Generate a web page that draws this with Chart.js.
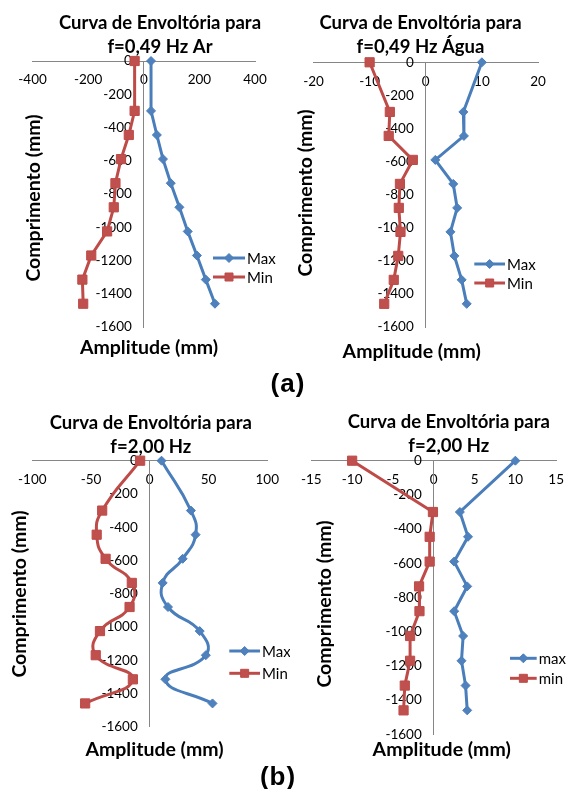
<!DOCTYPE html>
<html><head><meta charset="utf-8">
<script src="https://cdn.jsdelivr.net/npm/chart.js@4.4.0/dist/chart.umd.min.js"></script>
<style>
html,body{margin:0;padding:0;background:#fff;}
body{width:575px;height:789px;position:relative;overflow:hidden;}
canvas{position:absolute;}
.lbl{position:absolute;font-weight:bold;font-size:26px;font-family:"Liberation Sans",Arial,sans-serif;transform:translate(-50%,-50%);letter-spacing:1px;color:#000;}
</style></head><body>
<canvas id="c1" style="left:0;top:0" width="290" height="370"></canvas>
<canvas id="c2" style="left:290px;top:0" width="285" height="370"></canvas>
<canvas id="c3" style="left:0;top:395px" width="290" height="370"></canvas>
<canvas id="c4" style="left:290px;top:395px" width="285" height="370"></canvas>
<div class="lbl" style="left:288px;top:383px">(a)</div>
<div class="lbl" style="left:278px;top:776px">(b)</div>
<script>
// ---- data ----
const depth = [0, -300, -445, -590, -735, -880, -1025, -1170, -1315, -1460];
const yTicks = [0, -200, -400, -600, -800, -1000, -1200, -1400, -1600];

const arMax = [26, 26, 47, 69, 97, 128, 158, 191, 223, 256];
const arMin = [-33, -33, -54, -82, -102, -108, -132, -189, -221, -218];
const arTicks = [-400, -200, 0, 200, 400];

const aguaMax = [10, 6.7, 6.8, 1.7, 4.9, 5.6, 4.4, 5.1, 6.4, 7.3];
const aguaMin = [-10, -6.4, -6.6, -2.3, -4.6, -4.8, -4.5, -4.9, -5.7, -7.4];
const aguaTicks = [-20, -10, 0, 10, 20];

const hz2aMax = [10, 35, 39, 28, 11, 15.5, 42.5, 47.7, 13.3, 53.4];
const hz2aMin = [-8.2, -40.5, -45.2, -37.6, -15.3, -17.2, -42.4, -46, -14.4, -55];
const hz2aTicks = [-100, -50, 0, 50, 100];

const hz2bMax = [10, 3.2, 4.2, 2.5, 4.1, 2.5, 3.6, 3.4, 3.9, 4.1];
const hz2bMin = [-10, -0.1, -0.5, -0.5, -1.8, -1.75, -2.9, -2.9, -3.55, -3.7];
const hz2bTicks = [-15, -10, -5, 0, 5, 10, 15];

const titleLine1 = "Curva de Envoltória para";
const titles = [
  [titleLine1, "f=0,49 Hz Ar"],
  [titleLine1, "f=0,49 Hz Água"],
  [titleLine1, "f=2,00 Hz"],
  [titleLine1, "f=2,00 Hz"]
];
const xTitle = "Amplitude (mm)";
const yTitle = "Comprimento (mm)";
const legendUpper = ["Max", "Min"];
const legendLower = ["max", "min"];

// ---- styles ----
const BLUE = '#4A7EBB', BLUE_F = '#4F81BD';
const RED = '#BE4B48', RED_F = '#C0504D';
const AXIS = '#868686';
const FONT = 'Lato, "Open Sans", sans-serif';
const Y_LABEL_GAP = 12;

// place the y tick labels a fixed gap left of the vertical axis line
const yLabelGap = {
  id: 'yLabelGap',
  beforeDraw(chart) {
    const ys = chart.scales.y;
    const axisX = chart.scales.x.getPixelForValue(0);
    ys.getLabelItems(chart.chartArea).forEach(it => {
      it.options.translation[0] = axisX - Y_LABEL_GAP;
      it.options.textAlign = 'right';
    });
  }
};

const decor = {
  id: 'decor',
  afterDraw(chart, args, o) {
    const ctx = chart.ctx;
    ctx.save();
    ctx.fillStyle = '#000';
    ctx.textAlign = 'center';
    ctx.textBaseline = 'middle';
    ctx.font = 'bold 18.5px ' + FONT;
    o.title.forEach((t, i) => ctx.fillText(t, o.tx, o.ty[i]));
    ctx.font = 'bold 19.5px ' + FONT;
    ctx.fillText(o.xTitle, o.xtx, o.xty);
    ctx.save();
    ctx.translate(o.ytx, o.yty);
    ctx.rotate(-Math.PI / 2);
    ctx.fillText(o.yTitle, 0, 0);
    ctx.restore();
    chart.data.datasets.forEach((ds, i) => {
      const y = o.ly[i];
      ctx.strokeStyle = ds.borderColor;
      ctx.lineWidth = 3;
      ctx.beginPath(); ctx.moveTo(o.lx1, y); ctx.lineTo(o.lx2, y); ctx.stroke();
      const cx = (o.lx1 + o.lx2) / 2;
      ctx.fillStyle = ds.pointBackgroundColor;
      ctx.strokeStyle = ds.pointBorderColor;
      ctx.lineWidth = 1;
      ctx.beginPath();
      if (ds.pointStyle === 'rectRot') {
        const r = 4.5;
        ctx.moveTo(cx, y - r); ctx.lineTo(cx + r, y); ctx.lineTo(cx, y + r); ctx.lineTo(cx - r, y); ctx.closePath();
      } else {
        const s = 4;
        ctx.rect(cx - s, y - s, 2 * s, 2 * s);
      }
      ctx.fill(); ctx.stroke();
      ctx.fillStyle = '#000';
      ctx.textAlign = 'left';
      ctx.font = '15px ' + FONT;
      ctx.fillText(ds.label, o.lx2 + 2, y + 1);
    });
    ctx.restore();
  }
};

function makeChart(id, maxVals, minVals, xTicks, names, tension, lay) {
  const canvas = document.getElementById(id);
  const W = canvas.width, H = canvas.height;
  const pts = vals => depth.map((d, i) => ({x: vals[i], y: d}));
  return new Chart(canvas, {
    type: 'line',
    data: {
      datasets: [
        {label: names[0], data: pts(maxVals), borderColor: BLUE, borderWidth: 3,
         pointStyle: 'rectRot', pointRadius: 4.5, pointBackgroundColor: BLUE_F, pointBorderColor: BLUE,
         pointBorderWidth: 1, tension: tension, clip: false},
        {label: names[1], data: pts(minVals), borderColor: RED, borderWidth: 3,
         pointStyle: 'rect', pointRadius: 6.5, pointBackgroundColor: RED_F, pointBorderColor: RED,
         pointBorderWidth: 1, tension: tension, clip: false}
      ]
    },
    options: {
      responsive: false, animation: false, devicePixelRatio: 1,
      layout: {padding: {left: lay.L, right: W - lay.R, top: lay.T, bottom: H - lay.B}},
      plugins: {
        legend: {display: false}, title: {display: false}, tooltip: {enabled: false},
        decor: Object.assign({xTitle: xTitle, yTitle: yTitle}, lay)
      },
      scales: {
        x: {
          type: 'linear', min: xTicks[0], max: xTicks[xTicks.length - 1],
          position: {y: 0},
          afterBuildTicks: s => { s.ticks = xTicks.map(v => ({value: v})); },
          grid: {display: false, drawTicks: false},
          border: {display: true, color: AXIS, width: 1},
          ticks: {color: '#000', font: {family: FONT, size: 13.5}, padding: 11, maxRotation: 0, autoSkip: false,
                  callback: v => String(v)}
        },
        y: {
          type: 'linear', min: yTicks[yTicks.length - 1], max: yTicks[0],
          position: 'center',
          afterBuildTicks: s => { s.ticks = yTicks.map(v => ({value: v})); },
          grid: {display: false, drawTicks: false},
          border: {display: true, color: AXIS, width: 1},
          ticks: {color: '#000', font: {family: FONT, size: 13.5}, padding: 0, autoSkip: false,
                  callback: v => String(v)}
        }
      }
    },
    plugins: [yLabelGap, decor]
  });
}

makeChart('c1', arMax, arMin, arTicks, legendUpper, 0,
  {L: 32.6, R: 255, T: 61, B: 327, title: titles[0], tx: 160, ty: [23, 47],
   xtx: 149, xty: 348, ytx: 34, yty: 198, lx1: 213, lx2: 245, ly: [258, 277]});
makeChart('c2', aguaMax, aguaMin, aguaTicks, legendUpper, 0,
  {L: 23.5, R: 248, T: 62.3, B: 327, title: titles[1], tx: 130.5, ty: [23, 47],
   xtx: 121.7, xty: 351.7, ytx: 16, yty: 193, lx1: 184.3, lx2: 215, ly: [264, 283]});
makeChart('c3', hz2aMax, hz2aMin, hz2aTicks, legendUpper, 0.5,
  {L: 32.3, R: 270.7, T: 65.7, B: 331.7, title: titles[2], tx: 150.8, ty: [28.3, 51.7],
   xtx: 154.5, xty: 355, ytx: 20, yty: 199, lx1: 229.3, lx2: 260, ly: [256, 278.3]});
makeChart('c4', hz2bMax, hz2bMin, hz2bTicks, legendLower, 0,
  {L: 17.5, R: 277.5, T: 65.7, B: 339.3, title: titles[3], tx: 158.8, ty: [26.7, 50.7],
   xtx: 151.7, xty: 355, ytx: 35, yty: 209, lx1: 220, lx2: 246.7, ly: [263.3, 283.3]});
</script>
</body></html>
